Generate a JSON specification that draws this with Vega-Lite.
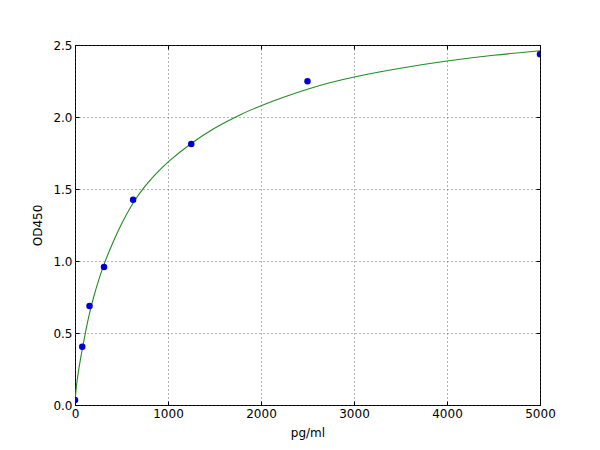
{
  "$schema": "https://vega.github.io/schema/vega-lite/v6.json",
  "autosize": "none",
  "width": 465,
  "height": 360,
  "padding": {"left": 75, "top": 45, "right": 60, "bottom": 45},
  "background": "white",
  "config": {
    "view": {"stroke": "black", "strokeWidth": 1},
    "font": "DejaVu Sans",
    "axis": {
      "labelFont": "DejaVu Sans",
      "titleFont": "DejaVu Sans",
      "labelFontSize": 12,
      "titleFontSize": 12,
      "titleFontWeight": "normal",
      "labelColor": "black",
      "titleColor": "black",
      "labelFlush": false,
      "labelOverlap": false,
      "domain": false,
      "tickColor": "black",
      "tickSize": -4,
      "labelPadding": 7,
      "gridColor": "#444444",
      "gridDash": [1, 3],
      "gridOpacity": 0.8
    }
  },
  "datasets": {
    "standards": [
      {"conc": 0, "od": 0.035},
      {"conc": 78, "od": 0.405},
      {"conc": 156, "od": 0.688},
      {"conc": 312, "od": 0.958},
      {"conc": 625, "od": 1.426},
      {"conc": 1250, "od": 1.812},
      {"conc": 2500, "od": 2.249},
      {"conc": 5000, "od": 2.435}
    ],
    "fit": [
      {"conc": 0, "od": 0.02},
      {"conc": 10, "od": 0.1},
      {"conc": 20, "od": 0.16},
      {"conc": 40, "od": 0.25},
      {"conc": 78, "od": 0.39},
      {"conc": 120, "od": 0.53},
      {"conc": 156, "od": 0.64},
      {"conc": 200, "od": 0.75},
      {"conc": 250, "od": 0.86},
      {"conc": 312, "od": 0.98},
      {"conc": 400, "od": 1.12},
      {"conc": 500, "od": 1.26},
      {"conc": 625, "od": 1.41},
      {"conc": 750, "od": 1.52},
      {"conc": 875, "od": 1.61},
      {"conc": 1000, "od": 1.69},
      {"conc": 1250, "od": 1.82},
      {"conc": 1500, "od": 1.925},
      {"conc": 1750, "od": 2.01},
      {"conc": 2000, "od": 2.08},
      {"conc": 2250, "od": 2.14},
      {"conc": 2500, "od": 2.195},
      {"conc": 2750, "od": 2.24},
      {"conc": 3000, "od": 2.28},
      {"conc": 3500, "od": 2.34},
      {"conc": 4000, "od": 2.39},
      {"conc": 4500, "od": 2.43},
      {"conc": 5000, "od": 2.46}
    ]
  },
  "layer": [
    {
      "data": {"name": "fit"},
      "mark": {"type": "line", "color": "#228b22", "strokeWidth": 1.1, "interpolate": "basis", "clip": true},
      "encoding": {
        "x": {
          "field": "conc", "type": "quantitative", "title": "pg/ml",
          "scale": {"domain": [0, 5000], "nice": false},
          "axis": {"values": [0, 1000, 2000, 3000, 4000, 5000], "format": "d", "titlePadding": 8}
        },
        "y": {
          "field": "od", "type": "quantitative", "title": "OD450",
          "scale": {"domain": [0, 2.5], "nice": false},
          "axis": {"values": [0, 0.5, 1, 1.5, 2, 2.5], "format": ".1f", "titlePadding": 8}
        }
      }
    },
    {
      "data": {"name": "standards"},
      "mark": {"type": "circle", "color": "#0000cc", "opacity": 1, "size": 42, "clip": true},
      "encoding": {
        "x": {
          "field": "conc", "type": "quantitative",
          "scale": {"domain": [0, 5000], "nice": false},
          "axis": {"orient": "top", "values": [0, 1000, 2000, 3000, 4000, 5000], "labels": false, "grid": false, "title": null}
        },
        "y": {
          "field": "od", "type": "quantitative",
          "scale": {"domain": [0, 2.5], "nice": false},
          "axis": {"orient": "right", "values": [0, 0.5, 1, 1.5, 2, 2.5], "labels": false, "grid": false, "title": null}
        }
      }
    }
  ],
  "resolve": {"axis": {"x": "independent", "y": "independent"}}
}
